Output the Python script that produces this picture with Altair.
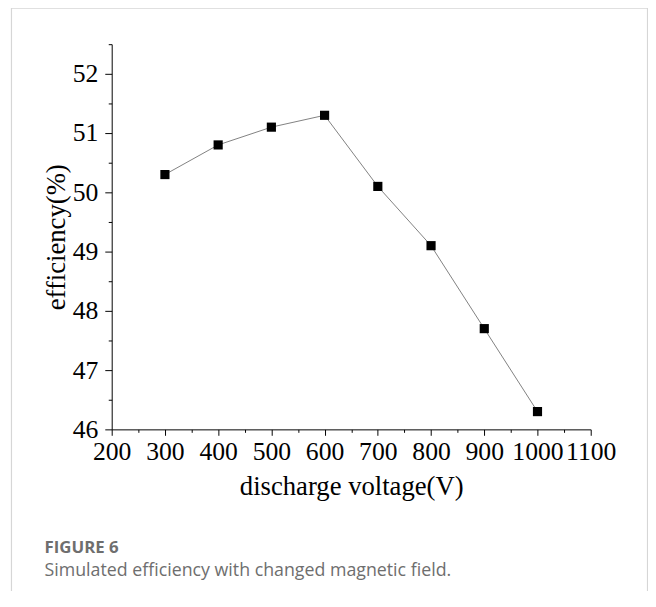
import altair as alt
import pandas as pd

# ---- data ----
voltage = [300, 400, 500, 600, 700, 800, 900, 1000]
efficiency = [50.3, 50.8, 51.1, 51.3, 50.1, 49.1, 47.7, 46.3]

x_major = [200, 300, 400, 500, 600, 700, 800, 900, 1000, 1100]
x_minor = [250, 350, 450, 550, 650, 750, 850, 950, 1050]
y_major = [46, 47, 48, 49, 50, 51, 52]
y_minor = [46.5, 47.5, 48.5, 49.5, 50.5, 51.5, 52.5]

x_title = "discharge voltage(V)"
y_title = "efficiency(%)"
fig_label = ["FIGURE 6"]
caption = ["Simulated efficiency with changed magnetic field."]

df = pd.DataFrame({"voltage": voltage, "efficiency": efficiency})

SERIF = "Liberation Serif, Times New Roman, serif"
xscale = alt.Scale(domain=[200, 1100], nice=False, zero=False)
yscale = alt.Scale(domain=[46, 52.5], nice=False, zero=False)

x_axis_major = alt.Axis(
    orient="bottom", values=x_major, format="d", grid=False,
    domainColor="black", domainWidth=1, tickColor="black", tickSize=6, tickWidth=1,
    labelFont=SERIF, labelFontSize=26, labelColor="black", labelPadding=4,
    labelFlush=False, labelOverlap=False,
    title=x_title, titleFont=SERIF, titleFontSize=27, titleFontWeight="normal",
    titleColor="black", titlePadding=9,
)
y_axis_major = alt.Axis(
    orient="left", values=y_major, format="d", grid=False,
    domainColor="black", domainWidth=1, tickColor="black", tickSize=7, tickWidth=1,
    labelFont=SERIF, labelFontSize=26, labelColor="black", labelPadding=7,
    labelFlush=False, labelOverlap=False,
    title=y_title, titleFont=SERIF, titleFontSize=27, titleFontWeight="normal",
    titleColor="black", titlePadding=2,
)
x_axis_minor = alt.Axis(
    orient="bottom", values=x_minor, grid=False, domain=False, labels=False,
    tickColor="black", tickSize=3, tickWidth=1, title=None,
)
y_axis_minor = alt.Axis(
    orient="left", values=y_minor, grid=False, domain=False, labels=False,
    tickColor="black", tickSize=3.5, tickWidth=1, title=None,
)

line = alt.Chart(df).mark_line(color="#808080", strokeWidth=1).encode(
    x=alt.X("voltage:Q", scale=xscale, axis=x_axis_minor),
    y=alt.Y("efficiency:Q", scale=yscale, axis=y_axis_minor),
)
points = alt.Chart(df).mark_point(
    shape="square", filled=True, color="black", size=86, opacity=1
).encode(
    x=alt.X("voltage:Q", scale=xscale, axis=x_axis_major),
    y=alt.Y("efficiency:Q", scale=yscale, axis=y_axis_major),
)

frame = alt.Chart(pd.DataFrame({"a": [0]})).mark_rect(
    fill="transparent", stroke="#d6d6d6", strokeWidth=1.2
).encode(
    x=alt.value(-101.5), x2=alt.value(542.5), y=alt.value(-36.5), y2=alt.value(600)
)

label_txt = alt.Chart(pd.DataFrame({"t": fig_label})).mark_text(
    align="left", baseline="alphabetic", font="Open Sans", fontSize=17,
    fontWeight="bold", color="#6e6e6e"
).encode(x=alt.value(-68), y=alt.value(515), text="t:N")

caption_txt = alt.Chart(pd.DataFrame({"t": caption})).mark_text(
    align="left", baseline="alphabetic", font="Open Sans", fontSize=18,
    fontWeight="normal", color="#6e6e6e"
).encode(x=alt.value(-68), y=alt.value(538), text="t:N")

chart = alt.layer(frame, line, points, label_txt, caption_txt).resolve_axis(
    x="independent", y="independent"
).properties(
    width=485, height=390,
    autosize=alt.AutoSizeParams(type="none"),
    padding={"left": 105, "top": 33, "right": 58, "bottom": 160},
    background="white",
).configure_view(stroke=None).configure_axis(
    labelFont=SERIF, labelFontSize=26, labelColor="black",
    titleFont=SERIF, titleFontSize=27, titleFontWeight="normal", titleColor="black",
)

chart.save("out.html", embed_options={"renderer": "svg", "actions": False})
